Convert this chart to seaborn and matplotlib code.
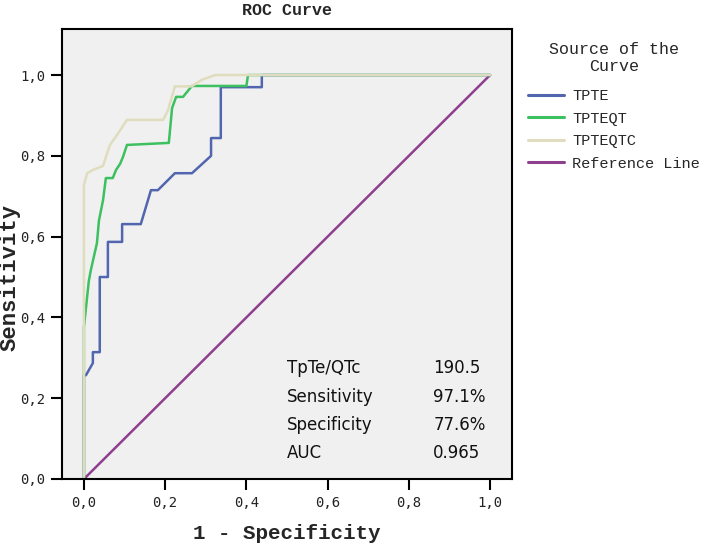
import matplotlib
matplotlib.use("Agg")
import matplotlib.pyplot as plt
import seaborn as sns
import pandas as pd

# ---- data ----
tpte_fpr = [0, 0, 0.005, 0.022, 0.022, 0.039, 0.039, 0.059, 0.059, 0.094, 0.094, 0.14, 0.165,
            0.182, 0.224, 0.266, 0.313, 0.313, 0.337, 0.337, 0.438, 0.438, 1.0]
tpte_tpr = [0, 0.257, 0.257, 0.287, 0.314, 0.314, 0.50, 0.50, 0.587, 0.587, 0.631, 0.631, 0.715,
            0.715, 0.757, 0.757, 0.80, 0.844, 0.844, 0.97, 0.97, 1.0, 1.0]

tpteqt_fpr = [0, 0, 0.012, 0.017, 0.032, 0.037, 0.047, 0.054, 0.071, 0.079, 0.089, 0.096, 0.106,
              0.209, 0.217, 0.227, 0.244, 0.266, 0.40, 0.404, 1.0]
tpteqt_tpr = [0, 0.376, 0.49, 0.517, 0.584, 0.64, 0.69, 0.745, 0.745, 0.765, 0.78, 0.797, 0.827,
              0.832, 0.918, 0.946, 0.946, 0.973, 0.973, 1.0, 1.0]

tpteqtc_fpr = [0, 0, 0.008, 0.022, 0.047, 0.064, 0.081, 0.106, 0.195, 0.207, 0.224, 0.265, 0.29,
               0.323, 1.0]
tpteqtc_tpr = [0, 0.728, 0.757, 0.765, 0.775, 0.827, 0.851, 0.889, 0.889, 0.913, 0.972, 0.972,
               0.988, 1.0, 1.0]

ref_fpr = [0, 1.0]
ref_tpr = [0, 1.0]

series_names = ["TPTE", "TPTEQT", "TPTEQTC", "Reference Line"]
colors = ["#5266b0", "#3cc060", "#e0dcbe", "#8e3f8e"]

x_ticks = [0.0, 0.2, 0.4, 0.6, 0.8, 1.0]
tick_labels = ["0,0", "0,2", "0,4", "0,6", "0,8", "1,0"]

stat_labels = ["TpTe/QTc", "Sensitivity", "Specificity", "AUC"]
stat_values = ["190.5", "97.1%", "77.6%", "0.965"]

# ---- build long-form data ----
frames = []
for name, xs, ys in zip(series_names,
                        [tpte_fpr, tpteqt_fpr, tpteqtc_fpr, ref_fpr],
                        [tpte_tpr, tpteqt_tpr, tpteqtc_tpr, ref_tpr]):
    frames.append(pd.DataFrame({"fpr": xs, "tpr": ys, "src": name, "order": range(len(xs))}))
df = pd.concat(frames, ignore_index=True)

sns.set_theme(style="white")
plt.rcParams["font.family"] = ["DejaVu Sans"]

fig = plt.figure(figsize=(7.09, 5.44), dpi=100)
ax = fig.add_axes([62 / 709, 1 - 479 / 544, 450 / 709, 450 / 544])
ax.set_facecolor("#f0f0f0")

draw_order = ["Reference Line", "TPTE", "TPTEQT", "TPTEQTC"]
pal = dict(zip(series_names, colors))
for name in draw_order:
    sub = df[df["src"] == name]
    sns.lineplot(data=sub, x="fpr", y="tpr", sort=False, estimator=None, ax=ax,
                 color=pal[name], linewidth=1.8, legend=False)

ax.set_xlim(-0.054, 1.054)
ax.set_ylim(0, 1.114)
ax.set_xticks(x_ticks)
ax.set_xticklabels(tick_labels)
ax.set_yticks(x_ticks)
ax.set_yticklabels(tick_labels)
mono = "DejaVu Sans Mono"
for lab in ax.get_xticklabels() + ax.get_yticklabels():
    lab.set_fontfamily(mono)
    lab.set_fontsize(10)
    lab.set_color("#222222")
ax.tick_params(axis="both", direction="out", length=8, width=1.5, color="black",
               bottom=True, left=True, pad=4)
for s in ax.spines.values():
    s.set_color("black")
    s.set_linewidth(1.5)

ax.set_xlabel("1 - Specificity", fontfamily="Liberation Mono", fontweight="bold",
              fontsize=15, labelpad=10)
ax.set_ylabel("Sensitivity", fontfamily="Liberation Mono", fontweight="bold",
              fontsize=16)
ax.yaxis.set_label_coords(-0.092, (479 - 277) / 450)
ax.set_title("ROC Curve", fontfamily="Liberation Mono", fontweight="bold", fontsize=12, pad=10)

# annotation table
ys = [0.275, 0.203, 0.134, 0.064]
for lab, val, yy in zip(stat_labels, stat_values, ys):
    ax.text(0.5, yy, lab, fontsize=12, color="#111111", va="center", ha="left")
    ax.text(0.86, yy, val, fontsize=12, color="#111111", va="center", ha="left")

# legend
handles = [plt.Line2D([], [], color=c, linewidth=2.2) for c in colors]
leg = fig.legend(handles, series_names, loc="upper left", bbox_to_anchor=(514 / 709, 1 - 28 / 544),
                 frameon=False, title="Source of the\nCurve",
                 prop={"family": "Liberation Mono", "size": 11},
                 handlelength=2.4, handletextpad=0.5, labelspacing=0.55)
leg.get_title().set_fontfamily("Liberation Mono")
leg.get_title().set_fontsize(12)
leg.get_title().set_multialignment("center")
leg._legend_box.sep = 11

fig.savefig("out.png", dpi=100, facecolor="white")
